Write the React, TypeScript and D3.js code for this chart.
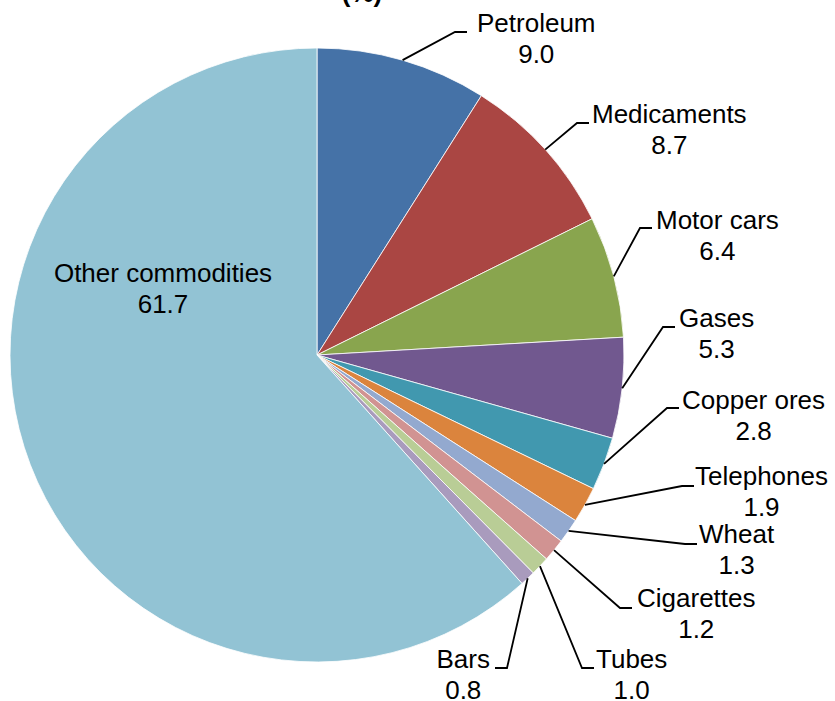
import React from 'react';
import { useRef, useEffect } from 'react';
import * as d3 from 'd3';

const categories = [
  'Petroleum',
  'Medicaments',
  'Motor cars',
  'Gases',
  'Copper ores',
  'Telephones',
  'Wheat',
  'Cigarettes',
  'Tubes',
  'Bars',
  'Other commodities',
];
const shares = [9.0, 8.7, 6.4, 5.3, 2.8, 1.9, 1.3, 1.2, 1.0, 0.8, 61.7];
const colors = [
  '#4572a7',
  '#aa4643',
  '#89a54e',
  '#71588f',
  '#4198af',
  '#db843d',
  '#93a9cf',
  '#d19392',
  '#b9cd96',
  '#a99bbd',
  '#92c3d4',
];

// label layout: elbow of the leader line, text start (or end for left side), first baseline
const labelLayout: { elbow: [number, number]; tx: number; ty: number; side: number }[] = [
  { elbow: [455, 32], tx: 477, ty: 32, side: 1 },
  { elbow: [577, 123], tx: 592, ty: 123, side: 1 },
  { elbow: [640, 228], tx: 656, ty: 229, side: 1 },
  { elbow: [663, 327], tx: 679, ty: 327, side: 1 },
  { elbow: [667, 408], tx: 682, ty: 409, side: 1 },
  { elbow: [682, 486], tx: 695, ty: 485, side: 1 },
  { elbow: [685, 544], tx: 699, ty: 543, side: 1 },
  { elbow: [620, 608], tx: 637, ty: 607, side: 1 },
  { elbow: [582, 668], tx: 596, ty: 668, side: 1 },
  { elbow: [507, 668], tx: 490, ty: 668, side: -1 },
];
const otherLabelPos: [number, number] = [163, 282];

export default function App() {
  const svgRef = useRef<SVGSVGElement>(null);

  useEffect(() => {
    const w = 835;
    const h = 701;
    const cx = 317;
    const cy = 355;
    const radius = 307;
    const lineH = 30.5;
    const font = '"Liberation Sans", Arial, sans-serif';
    const fmt = d3.format('.1f');

    const svg = d3.select(svgRef.current).attr('width', w).attr('height', h);
    svg.selectAll('*').remove();

    // title (cut off at top)
    svg
      .append('text')
      .attr('x', 362)
      .attr('y', 2)
      .attr('text-anchor', 'middle')
      .style('font-family', font)
      .style('font-size', '26px')
      .style('font-weight', 'bold')
      .text('(%)');

    const pieGen = d3
      .pie<number>()
      .sort(null)
      .startAngle(0)
      .endAngle(2 * Math.PI);
    const arcs = pieGen(shares);
    const arcGen: any = d3.arc().innerRadius(0).outerRadius(radius);

    const g = svg.append('g').attr('transform', `translate(${cx},${cy})`);
    g.selectAll('path')
      .data(arcs)
      .join('path')
      .attr('d', arcGen)
      .attr('fill', (d, i) => colors[i])
      .attr('stroke', '#ffffff')
      .attr('stroke-width', 0.8);

    // leader lines + labels
    labelLayout.forEach((lay, i) => {
      const a = arcs[i];
      const mid = (a.startAngle + a.endAngle) / 2;
      const sx = cx + radius * Math.sin(mid);
      const sy = cy - radius * Math.cos(mid);
      const [ex, ey] = lay.elbow;
      const endX = ex + 12 * lay.side;
      svg
        .append('path')
        .attr('d', `M${sx},${sy}L${ex},${ey}L${endX},${ey}`)
        .attr('fill', 'none')
        .attr('stroke', '#000')
        .attr('stroke-width', 1.8);

      const t1 = svg
        .append('text')
        .attr('x', lay.tx)
        .attr('y', lay.ty)
        .attr('text-anchor', lay.side > 0 ? 'start' : 'end')
        .style('font-family', font)
        .style('font-size', '26px')
        .text(categories[i]);
      const tw = (t1.node() as SVGTextElement).getComputedTextLength();
      svg
        .append('text')
        .attr('x', lay.tx + (lay.side * tw) / 2)
        .attr('y', lay.ty + lineH)
        .attr('text-anchor', 'middle')
        .style('font-family', font)
        .style('font-size', '26px')
        .text(fmt(shares[i]));
    });

    // label inside the big slice
    const last = categories.length - 1;
    svg
      .append('text')
      .attr('x', otherLabelPos[0])
      .attr('y', otherLabelPos[1])
      .attr('text-anchor', 'middle')
      .style('font-family', font)
      .style('font-size', '26px')
      .text(categories[last]);
    svg
      .append('text')
      .attr('x', otherLabelPos[0])
      .attr('y', otherLabelPos[1] + lineH)
      .attr('text-anchor', 'middle')
      .style('font-family', font)
      .style('font-size', '26px')
      .text(fmt(shares[last]));
  }, []);

  return (
    <svg
      ref={svgRef}
      style={{ position: 'absolute', left: 0, top: 0, display: 'block', background: '#ffffff' }}
    ></svg>
  );
}
